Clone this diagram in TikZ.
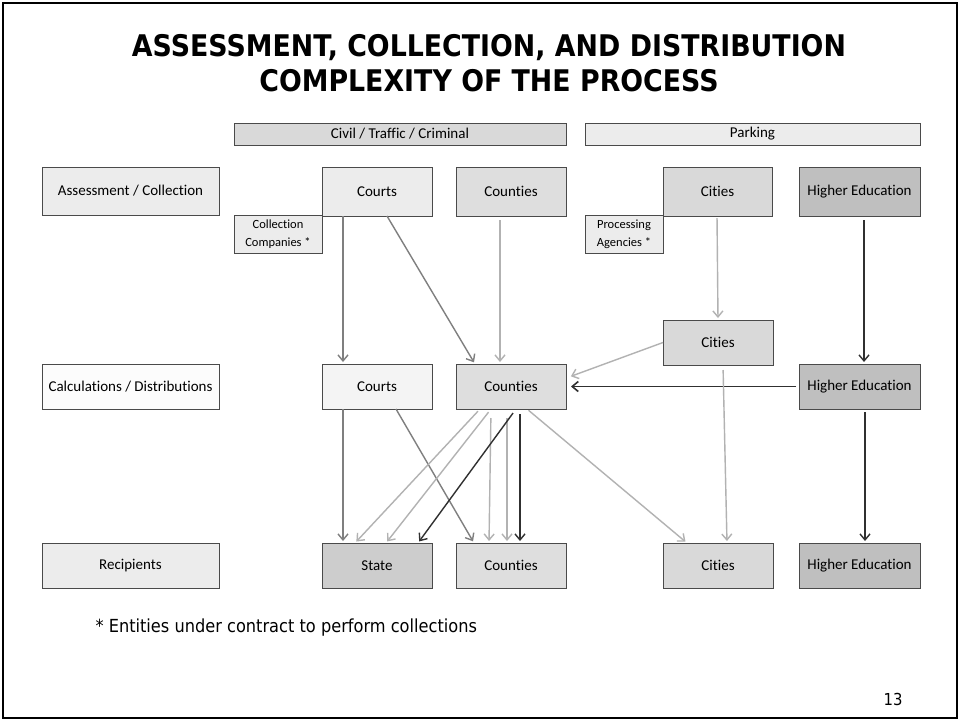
\documentclass[tikz,border=0pt]{standalone}
\usepackage{fontspec}
\setmainfont{Carlito}[Ligatures={NoCommon}]
\newfontfamily\slidefont{DejaVu Sans}[FakeStretch=0.9]
\usetikzlibrary{arrows.meta}

\definecolor{boxline}{HTML}{4A4A4A}
\definecolor{fillA}{HTML}{F4F4F4}
\definecolor{fillB}{HTML}{ECECEC}
\definecolor{fillC}{HTML}{DEDEDE}
\definecolor{fillD}{HTML}{D9D9D9}
\definecolor{fillE}{HTML}{CDCDCD}
\definecolor{fillF}{HTML}{BFBFBF}
\definecolor{arrowMid}{HTML}{7F7F7F}
\definecolor{arrowLight}{HTML}{B2B2B2}
\definecolor{arrowDark}{HTML}{303030}

\begin{document}
\begin{tikzpicture}[x=1pt,y=-1pt,
  box/.style={draw=boxline, line width=1pt, anchor=north west, inner sep=0pt,
    outer sep=0pt, align=center, font=\fontsize{15}{18}\selectfont},
  smallbox/.style={box, font=\fontsize{12.5}{18}\selectfont},
  flow/.style={line width=1.4pt, -{Straight Barb[length=6pt,width=10pt]},
    shorten >=2pt},
  midflow/.style={flow, draw=arrowMid},
  lightflow/.style={flow, draw=arrowLight},
  darkflow/.style={flow, draw=arrowDark}]

% page and frame
\useasboundingbox (0,0) rectangle (960,721);
\fill[white] (0,0) rectangle (960,721);
\draw[line width=2.5pt, black] (3,3) rectangle (957,718);

% title
\node[anchor=base, font=\slidefont\bfseries\fontsize{29.8}{35}\selectfont] (title1) at (489,56)
  {ASSESSMENT, COLLECTION, AND DISTRIBUTION};
\node[anchor=base, font=\slidefont\bfseries\fontsize{29.8}{35}\selectfont] (title2) at (489,91)
  {COMPLEXITY OF THE PROCESS};

% column headers
\node[box, fill=fillD, minimum width=332pt, minimum height=22pt] (civil) at (234,123) {Civil / Traffic / Criminal};
\node[box, fill=fillB, minimum width=335pt, minimum height=22pt] (parking) at (585,123) {Parking};

% row labels
\node[box, fill=fillB, minimum width=177pt, minimum height=48pt] (lAssess) at (42,167) {Assessment / Collection};
\node[box, fill=white!70!fillA, minimum width=177pt, minimum height=45pt] (lCalc) at (42,364) {Calculations / Distributions};
\node[box, fill=fillB, minimum width=177pt, minimum height=45pt] (lRecip) at (42,543) {Recipients};

% assessment / collection
\node[box, fill=fillB, minimum width=110pt, minimum height=49pt] (courtsA) at (322,167) {Courts};
\node[box, fill=fillC, minimum width=110pt, minimum height=49pt] (countiesA) at (456,167) {Counties};
\node[box, fill=fillD, minimum width=109pt, minimum height=49pt] (citiesA) at (663,167) {Cities};
\node[box, fill=fillF, minimum width=121pt, minimum height=49pt] (heA) at (799,167) {Higher Education};
\node[smallbox, fill=fillB, minimum width=88pt, minimum height=38pt] (collco) at (234,215) {Collection\\Companies *};
\node[smallbox, fill=fillB, minimum width=78pt, minimum height=38pt] (procag) at (585,215) {Processing\\Agencies *};

% calculations / distributions
\node[box, fill=fillD, minimum width=110pt, minimum height=45pt] (citiesM) at (663,320) {Cities};
\node[box, fill=fillA, minimum width=110pt, minimum height=45pt] (courtsB) at (322,364) {Courts};
\node[box, fill=fillC, minimum width=110pt, minimum height=45pt] (countiesB) at (456,364) {Counties};
\node[box, fill=fillF, minimum width=121pt, minimum height=45pt] (heB) at (799,364) {Higher Education};

% recipients
\node[box, fill=fillE, minimum width=110pt, minimum height=45pt] (state) at (322,543) {State};
\node[box, fill=fillC, minimum width=110pt, minimum height=45pt] (countiesC) at (456,543) {Counties};
\node[box, fill=fillD, minimum width=110pt, minimum height=45pt] (citiesC) at (663,543) {Cities};
\node[box, fill=fillF, minimum width=121pt, minimum height=45pt] (heC) at (799,543) {Higher Education};

% flows out of assessment / collection
\draw[midflow] ([xshift=21pt]courtsA.south west) -- ([xshift=21pt]courtsB.north west);
\draw[midflow] ([xshift=65pt]courtsA.south west) -- ([xshift=19pt]countiesB.north west);
\draw[lightflow, shorten <=4pt] ([xshift=44pt]countiesA.south west) -- ([xshift=44pt]countiesB.north west);
\draw[lightflow, shorten <=2pt] ([xshift=54pt]citiesA.south west) -- ([xshift=55pt]citiesM.north west);
\draw[darkflow, shorten <=4pt] ([xshift=65pt]heA.south west) -- ([xshift=65pt]heB.north west);

% flows into the county distribution
\draw[lightflow] (citiesM.west) -- ([xshift=3pt,yshift=-13pt]countiesB.north east);
\draw[darkflow, line width=1.6pt, shorten <=3pt] (heB.west) -- ([xshift=3pt]countiesB.east);

% flows to recipients
\draw[darkflow, shorten <=3pt] ([xshift=66pt]heB.south west) -- ([xshift=66pt]heC.north west);
\draw[lightflow, shorten <=5pt] ([xshift=60pt]citiesM.south west) -- ([xshift=64pt]citiesC.north west);
\draw[lightflow, shorten <=2pt] ([xshift=71pt]countiesB.south west) -- ([xshift=24pt]citiesC.north west);
\draw[midflow] ([xshift=21pt]courtsB.south west) -- ([xshift=21pt]state.north west);
\draw[midflow] ([xshift=74pt]courtsB.south west) -- ([xshift=18pt]countiesC.north west);
\draw[lightflow, shorten <=3pt] ([xshift=24pt]countiesB.south west) -- ([xshift=33pt]state.north west);
\draw[lightflow, shorten <=4pt] ([xshift=35pt]countiesB.south west) -- ([xshift=64pt]state.north west);
\draw[lightflow, shorten <=9pt] ([xshift=35pt]countiesB.south west) -- ([xshift=33pt]countiesC.north west);
\draw[lightflow, shorten <=9pt] ([xshift=51pt]countiesB.south west) -- ([xshift=51pt]countiesC.north west);
\draw[darkflow, shorten <=5pt] ([xshift=60pt]countiesB.south west) -- ([xshift=96pt]state.north west);
\draw[darkflow, shorten <=5pt] ([xshift=64pt]countiesB.south west) -- ([xshift=64pt]countiesC.north west);

% footnote and page number
\node[anchor=base west, font=\slidefont\fontsize{18}{22}\selectfont] (note) at (92,632)
  {* Entities under contract to perform collections};
\node[anchor=base east, font=\slidefont\fontsize{16.5}{20}\selectfont] (pageno) at (906,705) {13};
\end{tikzpicture}
\end{document}
